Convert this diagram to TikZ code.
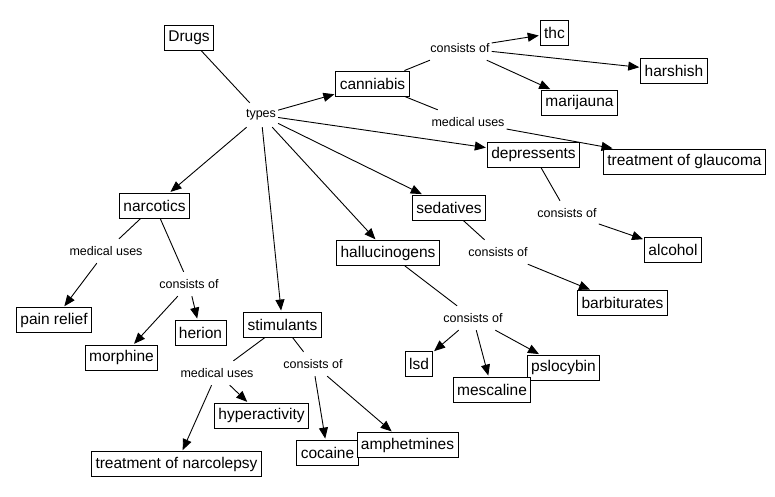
\documentclass[tikz,border=0pt]{standalone}
\usepackage{fontspec}
\setmainfont{Liberation Sans}
\usetikzlibrary{arrows.meta}
\begin{document}
\begin{tikzpicture}[x=1pt,y=-1pt,
  box/.style={draw,fill=white,line width=0.9pt,inner xsep=4pt,inner ysep=0pt,minimum height=25pt,font=\fontsize{15.5}{18}\selectfont},
  lab/.style={inner xsep=2pt,inner ysep=0pt,minimum height=24pt,font=\fontsize{12.5}{14}\selectfont},
  ln/.style={line width=0.9pt},
  arr/.style={line width=0.9pt,-{Triangle[length=11pt,width=9pt]},shorten >=1pt}]
\useasboundingbox (0,0) rectangle (775,496);
% boxes
\node[box] (drugs) at (189,37.5) {Drugs};
\node[box] (cann) at (372.5,83.5) {canniabis};
\node[box] (thc) at (554.5,33) {thc};
\node[box] (harsh) at (674,71) {harshish};
\node[box] (mari) at (579.5,102.5) {marijauna};
\node[box] (depr) at (533.5,154.5) {depressents};
\node[box] (glau) at (684.5,161.5) {treatment of glaucoma};
\node[box] (sed) at (449,207.5) {sedatives};
\node[box] (alc) at (673,249.5) {alcohol};
\node[box] (narc) at (154.5,205.5) {narcotics};
\node[box] (pain) at (54,320) {pain relief};
\node[box] (her) at (200.5,332.5) {herion};
\node[box] (morph) at (121.5,357.5) {morphine};
\node[box] (stim) at (282.5,324.5) {stimulants};
\node[box] (hyper) at (261.5,415.5) {hyperactivity};
\node[box] (narco) at (176.5,464) {treatment of narcolepsy};
\node[box] (hall) at (388,253) {hallucinogens};
\node[box] (barb) at (622.5,303) {barbiturates};
\node[box] (lsd) at (419,364) {lsd};
\node[box] (psl) at (563.5,367.5) {pslocybin};
\node[box] (mesc) at (492,389.5) {mescaline};
\node[box] (coc) at (327.5,452.5) {cocaine};
\node[box] (amph) at (407.5,445) {amphetmines};
% labels
\node[lab] (types) at (261,115) {types};
\node[lab] (c1) at (460,48) {consists of};
\node[lab] (m1) at (468,122) {medical uses};
\node[lab] (c2) at (567,213) {consists of};
\node[lab] (c3) at (498,252) {consists of};
\node[lab] (c4) at (473,318) {consists of};
\node[lab] (m2) at (106,251) {medical uses};
\node[lab] (c5) at (189,284) {consists of};
\node[lab] (m3) at (217,373) {medical uses};
\node[lab] (c6) at (313,364) {consists of};
% connectors
\draw[ln] (drugs) -- (types);
\draw[arr] (types) -- (cann);
\draw[arr] (types) -- (narc);
\draw[arr] (types) -- (stim);
\draw[arr] (types) -- (hall);
\draw[arr] (types) -- (sed);
\draw[arr] (types) -- (depr);
\draw[ln] (cann) -- (c1);
\draw[arr] (c1) -- (thc);
\draw[arr] (c1) -- (harsh);
\draw[arr] (c1) -- (mari);
\draw[ln] (cann) -- (m1);
\draw[arr] (m1) -- (glau);
\draw[ln] (depr) -- (c2);
\draw[arr] (c2) -- (alc);
\draw[ln] (sed) -- (c3);
\draw[arr] (c3) -- (barb);
\draw[ln] (hall) -- (c4);
\draw[arr] (c4) -- (lsd);
\draw[arr] (c4) -- (mesc);
\draw[arr] (c4) -- (psl);
\draw[ln] (narc) -- (m2);
\draw[arr] (m2) -- (pain);
\draw[ln] (narc) -- (c5);
\draw[arr] (c5) -- (morph);
\draw[arr] (c5) -- (her);
\draw[ln] (stim) -- (m3);
\draw[arr] (m3) -- (hyper);
\draw[arr] (m3) -- (narco);
\draw[ln] (stim) -- (c6);
\draw[arr] (c6) -- (coc);
\draw[arr] (c6) -- (amph);
\end{tikzpicture}
\end{document}
